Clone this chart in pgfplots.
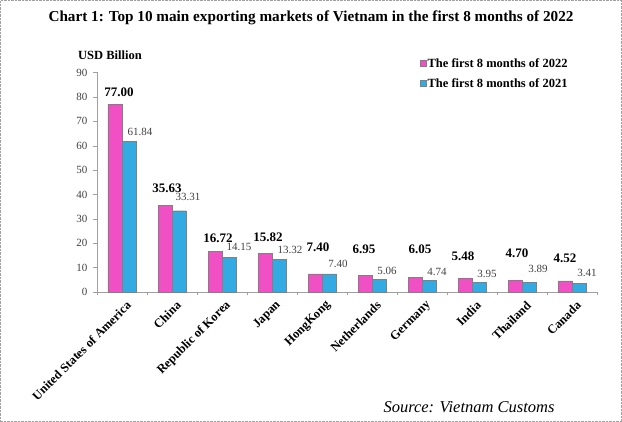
\documentclass[border=0pt]{standalone}
\usepackage{fontspec}
\setmainfont{Liberation Serif}
\usepackage{pgfplots}
\pgfplotsset{compat=1.18}
\usepackage{pgfplotstable}

\definecolor{pinkbar}{HTML}{F050C4}
\definecolor{bluebar}{HTML}{34AAE2}
\definecolor{axisgray}{HTML}{A0A0A0}

\pgfplotstableread{
x y22 y21
0 77.00 61.84
1 35.63 33.31
2 16.72 14.15
3 15.82 13.32
4 7.40 7.40
5 6.95 5.06
6 6.05 4.74
7 5.48 3.95
8 4.70 3.89
9 4.52 3.41
}\datatable

\pgfplotstableread{
x y lab
-0.06 82.0 77.00
0.90 42.6 35.63
1.92 22.1 16.72
2.92 22.5 15.82
3.92 18.4 7.40
4.84 17.6 6.95
5.96 17.6 6.05
6.82 14.8 5.48
7.90 16.0 4.70
8.86 13.9 4.52
}\pinklab

\pgfplotstableread{
x y lab
0.36 65.6 61.84
1.32 38.9 33.31
2.34 18.4 14.15
3.36 17.2 13.32
4.32 11.5 7.40
5.30 8.6 5.06
6.30 8.2 4.74
7.30 7.4 3.95
8.32 9.4 3.89
9.30 7.8 3.41
}\bluelab

\begin{document}
\begin{tikzpicture}
\useasboundingbox (0pt,0pt) rectangle (622pt,422pt);
\draw[axisgray, densely dotted] (0.5pt,0.5pt) rectangle (621.5pt,421.5pt);
\node[font=\bfseries\fontsize{15.2}{17}\selectfont] at (311pt,404pt) {Chart 1: Top 10 main exporting markets of Vietnam in the first 8 months of 2022};
\node[font=\bfseries\fontsize{12.5}{14}\selectfont] at (110pt,367pt) {USD Billion};
\node[font=\itshape\fontsize{16.5}{18}\selectfont] at (469pt,15pt) {Source: Vietnam Customs};
\begin{axis}[
  at={(97pt,130pt)}, anchor=south west,
  scale only axis, width=500pt, height=219.6pt,
  xmin=-0.5, xmax=9.5, ymin=0, ymax=90,
  axis lines=left,
  axis line style={axisgray, -},
  ytick={0,10,...,90},
  xtick={0,...,9},
  xticklabels={United States of America,China,Republic of Korea,Japan,HongKong,Netherlands,Germany,India,Thailand,Canada},
  minor xtick={-0.5,0.5,...,9.5},
  major x tick style={draw=none},
  minor x tick style={axisgray},
  y tick style={axisgray},
  tick align=outside,
  major tick length=4pt, minor tick length=3pt,
  /pgf/number format/assume math mode=true,
  yticklabel style={font=\fontsize{11}{13}\selectfont, text=black!75, xshift=-2pt},
  xticklabel style={font=\bfseries\fontsize{12.5}{14}\selectfont, rotate=45, anchor=east, xshift=3pt, yshift=-10pt},
  legend style={at={(axis description cs:0.646,1.07)}, anchor=north west, draw=none, fill=none,
     font=\bfseries\fontsize{12.5}{14}\selectfont, row sep=8pt, cells={anchor=west}, inner sep=0pt,
     nodes={inner sep=1pt}},
  legend image code/.code={\draw[#1] (0pt,-3pt) rectangle (6pt,3pt);},
  clip=false,
]
\addplot[ybar, bar width=14pt, bar shift=-7pt, fill=pinkbar, draw=black!50] table[x=x, y=y22] {\datatable};
\addlegendentry{The first 8 months of 2022}
\addplot[ybar, bar width=14pt, bar shift=7pt, fill=bluebar, draw=black!50] table[x=x, y=y21] {\datatable};
\addlegendentry{The first 8 months of 2021}
\addplot[draw=none, mark=none, nodes near coords, point meta=explicit symbolic,
  every node near coord/.append style={anchor=center, font=\bfseries\fontsize{13}{15}\selectfont}, forget plot]
  table[x=x, y=y, meta=lab] {\pinklab};
\addplot[draw=none, mark=none, nodes near coords, point meta=explicit symbolic,
  every node near coord/.append style={anchor=center, font=\fontsize{11}{13}\selectfont, text=black!75}, forget plot]
  table[x=x, y=y, meta=lab] {\bluelab};
\end{axis}
\end{tikzpicture}
\end{document}
